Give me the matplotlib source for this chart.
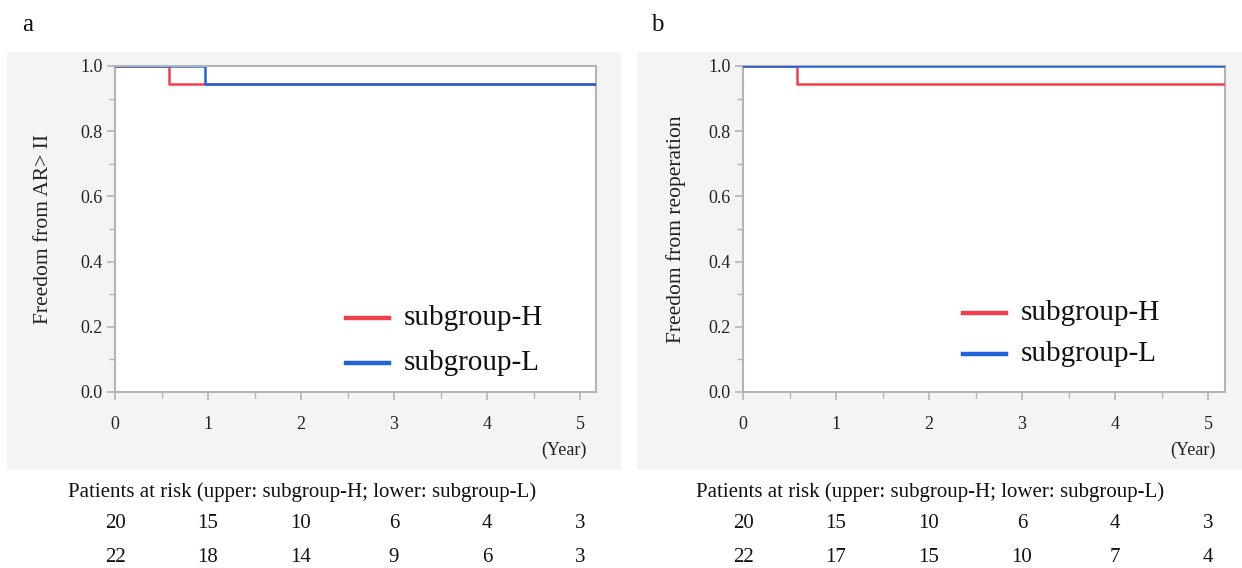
import matplotlib
matplotlib.use("Agg")
import matplotlib.pyplot as plt
from matplotlib.patches import Rectangle
from matplotlib.ticker import MultipleLocator, FormatStrFormatter

plt.rcParams['font.family'] = ['Liberation Serif', 'DejaVu Serif']

# ---- data ----
years = [0, 1, 2, 3, 4, 5]
a_H_t = [0, 0.58, 5.2]
a_H_s = [1.0, 0.944, 0.944]
a_L_t = [0, 0.97, 5.2]
a_L_s = [1.0, 0.944, 0.944]
b_H_t = [0, 0.58, 5.2]
b_H_s = [1.0, 0.944, 0.944]
b_L_t = [0, 5.2]
b_L_s = [1.0, 1.0]
a_risk_H = [20, 15, 10, 6, 4, 3]
a_risk_L = [22, 18, 14, 9, 6, 3]
b_risk_H = [20, 15, 10, 6, 4, 3]
b_risk_L = [22, 17, 15, 10, 7, 4]
labels = ["subgroup-H", "subgroup-L"]

RED = "#f0404f"
BLUE = "#1f63d8"
GRID = "#b4b4b4"

W, H = 1242, 568
fig = plt.figure(figsize=(W / 100, H / 100), dpi=100)

def fx(px):
    return px / W

def fy(py):
    return 1 - py / H

# gray panels
for x0, x1 in [(7, 621), (637, 1242)]:
    fig.patches.append(Rectangle((fx(x0), fy(470)), fx(x1 - x0), (470 - 52) / H,
                                 transform=fig.transFigure, facecolor="#f4f4f4",
                                 edgecolor="none", zorder=-5))

def make_panel(left_px, right_px, curves, ylabel, ylab_x, risk_H, risk_L, letter, letter_x,
               spine_top_z, leg_dx, leg_y):
    ax = fig.add_axes([fx(left_px), fy(392), fx(right_px - left_px), (392 - 66) / H])
    ax.set_zorder(1)
    ax.set_facecolor("white")
    for (t, s), c in zip(curves, [RED, BLUE]):
        ax.plot(t, s, drawstyle="steps-post", color=c, lw=1.8, zorder=3)
    ax.set_xlim(0, (right_px - left_px) / 93)
    ax.set_ylim(0, 1.0)
    ax.xaxis.set_major_locator(MultipleLocator(1))
    ax.xaxis.set_minor_locator(MultipleLocator(0.5))
    ax.yaxis.set_major_locator(MultipleLocator(0.2))
    ax.yaxis.set_minor_locator(MultipleLocator(0.1))
    ax.yaxis.set_major_formatter(FormatStrFormatter("%.1f"))
    for sp in ax.spines.values():
        sp.set_color(GRID)
        sp.set_linewidth(1.5)
    ax.spines["top"].set_zorder(spine_top_z)
    ax.tick_params(axis="both", which="major", direction="out", length=6, width=1.2,
                   color=GRID, labelsize=13, labelcolor="#222222")
    ax.tick_params(axis="both", which="minor", direction="out", length=4, width=1.0, color=GRID)
    ax.tick_params(axis="x", which="major", pad=11)
    ax.tick_params(axis="y", which="major", pad=3)
    fig.text(fx(ylab_x), fy(229), ylabel, rotation=90, ha="center", va="center",
             fontsize=15.5, color="#222222")
    fig.text(fx(right_px - 9), fy(450), "(Year)", ha="right", va="center",
             fontsize=13, color="#222222")
    # legend
    leg_x0, leg_x1 = left_px + 231 + leg_dx, left_px + 274 + leg_dx
    for i, (lab, c) in enumerate(zip(labels, [RED, BLUE])):
        yy = leg_y[i]
        fig.add_artist(plt.Line2D([fx(leg_x0), fx(leg_x1)], [fy(yy), fy(yy)],
                                  color=c, lw=3.2, transform=fig.transFigure, zorder=5))
        fig.text(fx(leg_x1 + 15), fy(yy), lab, ha="left", va="center",
                 fontsize=21, color="#111111", zorder=5)
    # risk table
    fig.text(fx(left_px - 47), fy(492), "Patients at risk (upper: subgroup-H; lower: subgroup-L)",
             ha="left", va="center", fontsize=15, color="#111111")
    for yr, h, l in zip(years, risk_H, risk_L):
        xp = left_px + yr * 93
        fig.text(fx(xp), fy(523), str(h), ha="center", va="center", fontsize=15, color="#111111")
        fig.text(fx(xp), fy(557), str(l), ha="center", va="center", fontsize=15, color="#111111")
    fig.text(fx(letter_x), fy(25), letter, ha="center", va="center", fontsize=18, color="#111111")
    return ax

make_panel(115, 596, [(a_H_t, a_H_s), (a_L_t, a_L_s)], "Freedom from AR> II", 44,
           a_risk_H, a_risk_L, "a", 28, 5, 0, [318, 363])
make_panel(743, 1225, [(b_H_t, b_H_s), (b_L_t, b_L_s)], "Freedom from reoperation", 676,
           b_risk_H, b_risk_L, "b", 657, 2.5, -11, [313, 354])

fig.savefig("out.png", dpi=100)
